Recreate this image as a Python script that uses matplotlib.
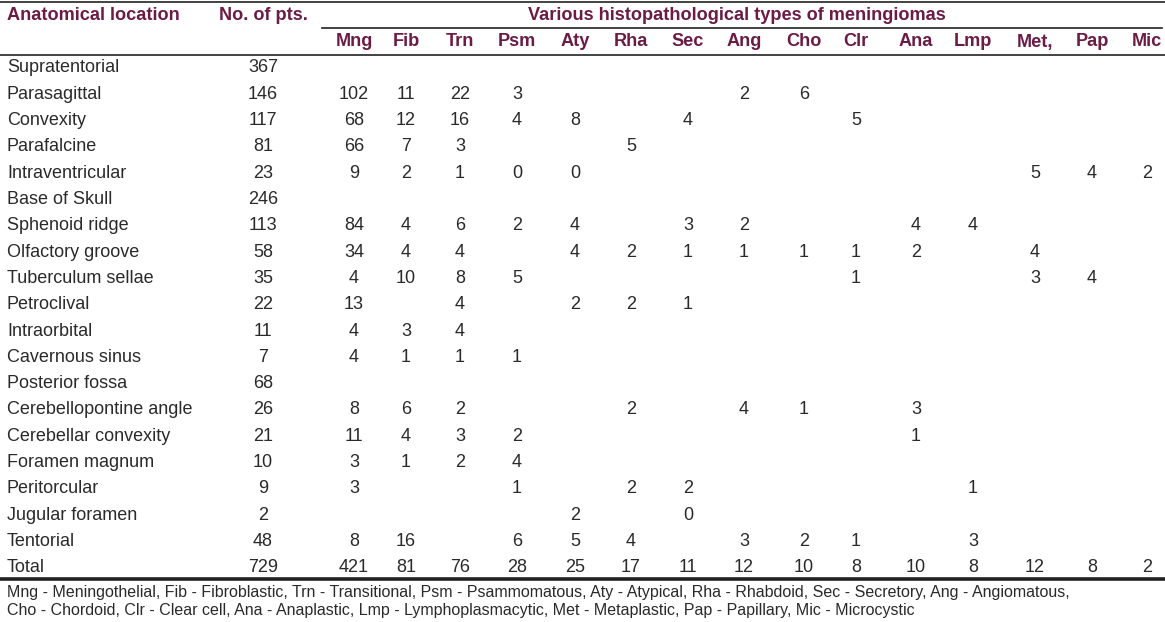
import matplotlib.pyplot as plt

# table content
locations = ["Supratentorial", "Parasagittal", "Convexity", "Parafalcine", "Intraventricular",
             "Base of Skull", "Sphenoid ridge", "Olfactory groove", "Tuberculum sellae",
             "Petroclival", "Intraorbital", "Cavernous sinus", "Posterior fossa",
             "Cerebellopontine angle", "Cerebellar convexity", "Foramen magnum",
             "Peritorcular", "Jugular foramen", "Tentorial", "Total"]
n_pts = [367, 146, 117, 81, 23, 246, 113, 58, 35, 22, 11, 7, 68, 26, 21, 10, 9, 2, 48, 729]
types = ["Mng", "Fib", "Trn", "Psm", "Aty", "Rha", "Sec", "Ang", "Cho", "Clr",
         "Ana", "Lmp", "Met,", "Pap", "Mic"]

# one list per row, None = empty cell
N = None
counts = [
    [N, N, N, N, N, N, N, N, N, N, N, N, N, N, N],
    [102, 11, 22, 3, N, N, N, 2, 6, N, N, N, N, N, N],
    [68, 12, 16, 4, 8, N, 4, N, N, 5, N, N, N, N, N],
    [66, 7, 3, N, N, 5, N, N, N, N, N, N, N, N, N],
    [9, 2, 1, 0, 0, N, N, N, N, N, N, N, 5, 4, 2],
    [N, N, N, N, N, N, N, N, N, N, N, N, N, N, N],
    [84, 4, 6, 2, 4, N, 3, 2, N, N, 4, 4, N, N, N],
    [34, 4, 4, N, 4, 2, 1, 1, 1, 1, 2, N, 4, N, N],
    [4, 10, 8, 5, N, N, N, N, N, 1, N, N, 3, 4, N],
    [13, N, 4, N, 2, 2, 1, N, N, N, N, N, N, N, N],
    [4, 3, 4, N, N, N, N, N, N, N, N, N, N, N, N],
    [4, 1, 1, 1, N, N, N, N, N, N, N, N, N, N, N],
    [N, N, N, N, N, N, N, N, N, N, N, N, N, N, N],
    [8, 6, 2, N, N, 2, N, 4, 1, N, 3, N, N, N, N],
    [11, 4, 3, 2, N, N, N, N, N, N, 1, N, N, N, N],
    [3, 1, 2, 4, N, N, N, N, N, N, N, N, N, N, N],
    [3, N, N, 1, N, 2, 2, N, N, N, N, 1, N, N, N],
    [N, N, N, N, 2, N, 0, N, N, N, N, N, N, N, N],
    [8, 16, N, 6, 5, 4, N, 3, 2, 1, N, 3, N, N, N],
    [421, 81, 76, 28, 25, 17, 11, 12, 10, 8, 10, 8, 12, 8, 2],
]
footnote = ["Mng - Meningothelial, Fib - Fibroblastic, Trn - Transitional, Psm - Psammomatous, "
            "Aty - Atypical, Rha - Rhabdoid, Sec - Secretory, Ang - Angiomatous,",
            "Cho - Chordoid, Clr - Clear cell, Ana - Anaplastic, Lmp - Lymphoplasmacytic, "
            "Met - Metaplastic, Pap - Papillary, Mic - Microcystic"]

# layout (pixels)
col_x = [354, 406, 460, 517, 575, 631, 688, 744, 804, 856, 916, 973, 1035, 1092, 1147]
pts_x = 263
row_y0, row_dy = 68, 26.3
head_col = "#6b1b45"
txt_col = "#2a2a2a"

plt.rcParams["font.family"] = ["Liberation Sans", "DejaVu Sans"]
fig = plt.figure(figsize=(11.65, 6.22), dpi=100)
ax = fig.add_axes([0, 0, 1, 1])
ax.set_xlim(0, 1165)
ax.set_ylim(622, 0)
ax.axis("off")

fs = 13
hfs = 13.1
ax.text(7, 15, "Anatomical location", fontsize=hfs, fontweight="bold", color=head_col, va="center")
ax.text(pts_x, 15, "No. of pts.", fontsize=hfs, fontweight="bold", color=head_col, va="center", ha="center")
ax.text(737, 15, "Various histopathological types of meningiomas", fontsize=hfs,
        fontweight="bold", color=head_col, va="center", ha="center")
for x, t in zip(col_x, types):
    ax.text(x, 42, t, fontsize=hfs, fontweight="bold", color=head_col, va="center", ha="center")

ax.plot([0, 1165], [1.5, 1.5], color="#222", lw=1.2)
ax.plot([322, 1162], [28, 28], color="#222", lw=1.2)
ax.plot([0, 1165], [55, 55], color="#222", lw=1.2)
ax.plot([0, 1165], [579, 579], color="#222", lw=2.6)

for i, loc in enumerate(locations):
    y = row_y0 + i * row_dy
    ax.text(7, y, loc, fontsize=fs, color=txt_col, va="center")
    ax.text(pts_x, y, str(n_pts[i]), fontsize=fs, color=txt_col, va="center", ha="center")
    for x, v in zip(col_x, counts[i]):
        if v is not None:
            ax.text(x, y, str(v), fontsize=fs, color=txt_col, va="center", ha="center")

for j, line in enumerate(footnote):
    ax.text(7, 592 + j * 18, line, fontsize=11.5, color=txt_col, va="center")

fig.savefig("out.png", dpi=100)
